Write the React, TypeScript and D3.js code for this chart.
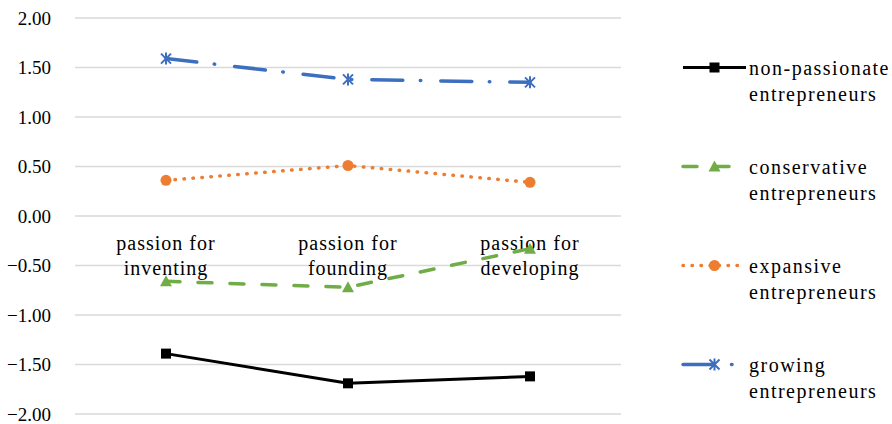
import * as d3 from "d3";

const categories = ["passion for inventing", "passion for founding", "passion for developing"];
const categoryLines = [["passion for", "inventing"], ["passion for", "founding"], ["passion for", "developing"]];
const yTicks = [2, 1.5, 1, 0.5, 0, -0.5, -1, -1.5, -2];

const nonPassionate = [-1.39, -1.69, -1.62];
const conservative = [-0.66, -0.72, -0.33];
const expansive = [0.36, 0.51, 0.34];
const growing = [1.59, 1.38, 1.35];

const seriesNames = [
  ["non-passionate", "entrepreneurs"],
  ["conservative", "entrepreneurs"],
  ["expansive", "entrepreneurs"],
  ["growing", "entrepreneurs"],
];

const W = 892;
const H = 424;
const FONT = "Liberation Serif, DejaVu Serif, Tinos, Times New Roman, serif";

type Style = { color: string; dash: string; width: number; cap: "round" | "butt"; marker: string };

const styles: Style[] = [
  { color: "#000000", dash: "none", width: 3, cap: "butt", marker: "square" },
  { color: "#70AD47", dash: "14 18", width: 3.5, cap: "round", marker: "triangle" },
  { color: "#ED7D31", dash: "0.5 8.5", width: 3.5, cap: "round", marker: "circle" },
  { color: "#3C6FBF", dash: "31 17.5 0.5 20", width: 3.5, cap: "round", marker: "star" },
];

const allSeries = [nonPassionate, conservative, expansive, growing];

function Marker({ kind, x, y, color }: { kind: string; x: number; y: number; color: string }) {
  if (kind === "square") return <rect x={x - 5} y={y - 5} width={10} height={10} fill={color} />;
  if (kind === "triangle") {
    const p = `M${x},${y - 6}L${x + 6},${y + 5}L${x - 6},${y + 5}Z`;
    return <path d={p} fill={color} />;
  }
  if (kind === "circle") return <circle cx={x} cy={y} r={5.5} fill={color} />;
  const s = 5;
  const p = `M${x - s},${y - s}L${x + s},${y + s}M${x - s},${y + s}L${x + s},${y - s}M${x},${y - s - 1}L${x},${y + s + 1}`;
  return <path d={p} stroke={color} strokeWidth={2} fill="none" />;
}

export default function App() {
  const x = d3.scalePoint<string>().domain(categories).range([75, 621]).padding(0.5);
  const y = d3.scaleLinear().domain([-2, 2]).range([414, 18]);
  const line = d3.line<number>().x((_, i) => x(categories[i]) as number).y(d => y(d));

  const legendX0 = 683;
  const legendX1 = 746;
  const legendRows = [1.5, 0.5, -0.5, -1.5];

  return (
    <div style={{ position: "absolute", left: 0, top: 0 }}>
      <svg width={W} height={H} style={{ display: "block", background: "#fff", fontFamily: FONT }}>
        {yTicks.map(t => (
          <g key={t}>
            <line x1={75} x2={621} y1={y(t)} y2={y(t)} stroke="#D9D9D9" strokeWidth={1.5} />
            <text x={51} y={y(t)} dy="0.35em" textAnchor="end" style={{ fontFamily: FONT }} fontSize={19} fill="#000">
              {d3.format(".2f")(t)}
            </text>
          </g>
        ))}
        {categoryLines.map((lines, i) => (
          <text key={i} x={x(categories[i])} textAnchor="middle" style={{ fontFamily: FONT }} fontSize={20} fill="#000" letterSpacing={1}>
            {lines.map((l, j) => (
              <tspan key={j} x={x(categories[i])} y={250 + j * 25}>{l}</tspan>
            ))}
          </text>
        ))}
        {allSeries.map((s, k) => {
          const st = styles[k];
          return (
            <g key={k}>
              <path d={line(s) || ""} fill="none" stroke={st.color} strokeWidth={st.width}
                strokeDasharray={st.dash} strokeLinecap={st.cap} strokeLinejoin="round" />
              {s.map((v, i) => (
                <Marker key={i} kind={st.marker} x={x(categories[i]) as number} y={y(v)} color={st.color} />
              ))}
            </g>
          );
        })}
        {seriesNames.map((names, k) => {
          const st = styles[k];
          const ly = y(legendRows[k]);
          return (
            <g key={k}>
              <line x1={legendX0} x2={legendX1} y1={ly} y2={ly} stroke={st.color} strokeWidth={st.width}
                strokeDasharray={st.dash} strokeLinecap={st.cap} />
              <Marker kind={st.marker} x={(legendX0 + legendX1) / 2} y={ly} color={st.color} />
              <text style={{ fontFamily: FONT }} fontSize={20} fill="#000" letterSpacing={1.5}>
                {names.map((n, j) => (
                  <tspan key={j} x={749} y={ly + 7 + j * 26}>{n}</tspan>
                ))}
              </text>
            </g>
          );
        })}
      </svg>
    </div>
  );
}
